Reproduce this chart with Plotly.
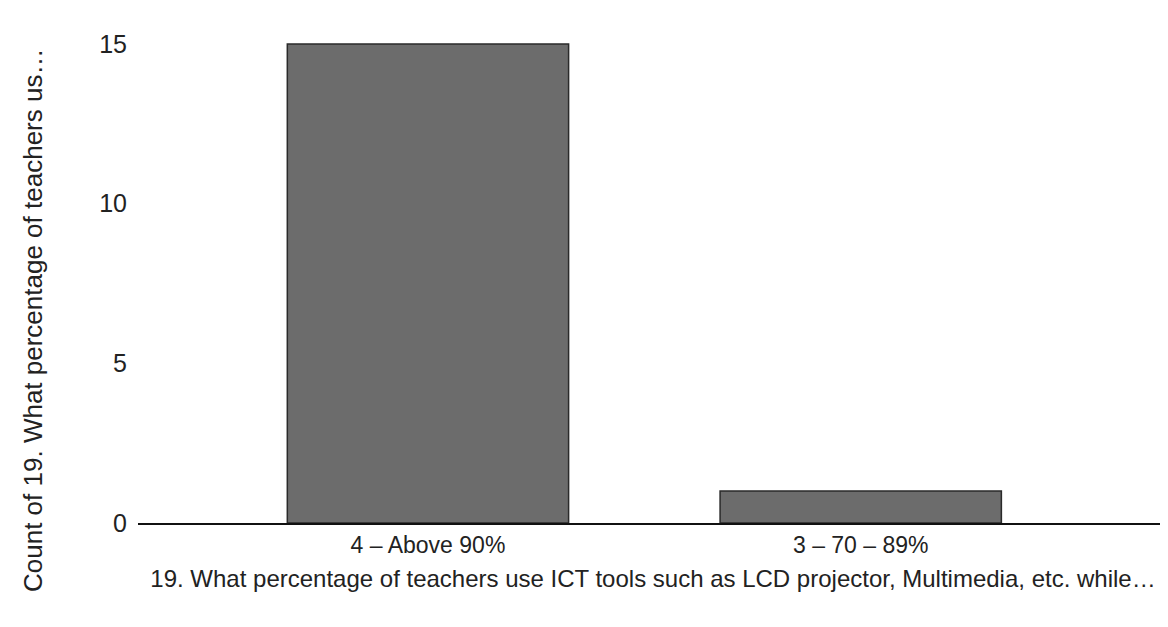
import plotly.graph_objects as go

categories = ["4 – Above 90%", "3 – 70 – 89%"]
counts = [15, 1]
y_ticks = [0, 5, 10, 15]
x_title = "19. What percentage of teachers use ICT tools such as LCD projector, Multimedia, etc. while…"
y_title = "Count of 19. What percentage of teachers us…"

fig = go.Figure(
    go.Bar(
        x=categories,
        y=counts,
        width=0.65,
        marker=dict(color="#6c6c6c", line=dict(color="#2a2a2a", width=1.5)),
    )
)

fig.update_layout(
    width=1168,
    height=627,
    margin=dict(l=130, r=8, t=20, b=112),
    paper_bgcolor="white",
    plot_bgcolor="white",
    font=dict(family="Liberation Sans, Arial, sans-serif", color="#222222", size=24),
    showlegend=False,
)

fig.add_annotation(
    text=y_title,
    textangle=-90,
    xref="paper",
    yref="paper",
    x=-0.102,
    y=0.41,
    xanchor="center",
    yanchor="middle",
    showarrow=False,
    font=dict(size=26, color="#222222"),
)

fig.update_xaxes(
    type="category",
    range=[-0.67, 1.71],
    showline=True,
    linecolor="#111111",
    linewidth=2,
    showgrid=False,
    ticks="",
    tickfont=dict(size=23),
    automargin=False,
    title=dict(text=x_title, font=dict(size=24), standoff=14),
)

fig.update_yaxes(
    range=[0, 15.5],
    tickvals=y_ticks,
    showgrid=False,
    showline=False,
    zeroline=False,
    ticks="",
    ticklabelstandoff=10,
    tickfont=dict(size=25),
    automargin=False,
)

fig.write_html("out.html")
